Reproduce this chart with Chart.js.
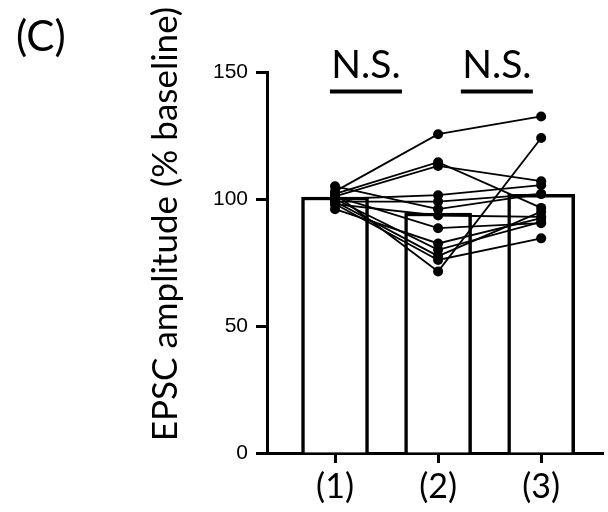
<!DOCTYPE html>
<html>
<head>
<meta charset="utf-8">
<script src="https://cdn.jsdelivr.net/npm/chart.js@4/dist/chart.umd.min.js"></script>
<style>
  body { margin: 0; background: #fff; }
</style>
</head>
<body>
<canvas id="grafico" width="608" height="512"></canvas>
<script>
// session positions and labels on the x axis
const sessions = [1, 2, 3];
const tickLabels = ['(1)', '(2)', '(3)'];
const yTicks = [0, 50, 100, 150];

// mean of each session (bar height, % baseline)
const barMeans = [100.8, 94.5, 101.8];

// one value per cell, same order in each session
const session1 = [103, 102, 101, 100, 99, 105, 98, 101, 96, 100, 99, 102, 98];
const session2 = [125.5, 114.5, 113, 101.5, 99, 96, 93.5, 88.5, 82.5, 80, 77.5, 71.5, 76];
const session3 = [132.5, 96.5, 107, 105.5, 102, 102, 93, 90.5, 92.5, 91, 95, 124, 84.5];

const sigLabels = ['N.S.', 'N.S.'];
const sigPos = [1.3, 2.57];

const fuente = 'Lato, "Open Sans", sans-serif';

// one line per cell, joining its three sessions
const lineas = session1.map((v, i) => ({
    type: 'line',
    data: [
        {x: sessions[0], y: session1[i]},
        {x: sessions[1], y: session2[i]},
        {x: sessions[2], y: session3[i]}
    ],
    borderColor: '#000',
    borderWidth: 1.8,
    pointRadius: 5,
    pointBackgroundColor: '#000',
    pointBorderWidth: 0,
    order: 0
}));

const barras = {
    type: 'bar',
    data: sessions.map((s, i) => ({x: s, y: barMeans[i]})),
    backgroundColor: '#fff',
    borderColor: '#000',
    borderWidth: 3.5,
    barThickness: 67,
    order: 1
};

// texts outside the axes: panel letter, y title, N.S. marks
const textos = {
    id: 'textos',
    afterDraw(chart) {
        const ctx = chart.ctx;
        const x = chart.scales.x;
        ctx.save();
        ctx.fillStyle = '#000';
        ctx.strokeStyle = '#000';

        ctx.font = '42px ' + fuente;
        ctx.textAlign = 'left';
        ctx.textBaseline = 'alphabetic';
        ctx.fillText('(C)', 16, 51);

        ctx.save();
        ctx.translate(166, 224);
        ctx.rotate(-Math.PI / 2);
        ctx.font = '35px ' + fuente;
        ctx.textAlign = 'center';
        ctx.textBaseline = 'middle';
        ctx.fillText('EPSC amplitude (% baseline)', 0, 0);
        ctx.restore();

        ctx.font = '39px ' + fuente;
        ctx.textAlign = 'center';
        ctx.lineWidth = 4;
        sigPos.forEach((p, i) => {
            const cx = x.getPixelForValue(p);
            ctx.fillText(sigLabels[i], cx, 78);
            ctx.beginPath();
            ctx.moveTo(cx - 36, 91.5);
            ctx.lineTo(cx + 36, 91.5);
            ctx.stroke();
        });
        ctx.restore();
    }
};

const config = {
    type: 'bar',
    data: {
        datasets: [...lineas, barras]
    },
    options: {
        responsive: false,
        animation: false,
        layout: {padding: {top: 72, right: 0, left: 0, bottom: 0}},
        plugins: {legend: {display: false}, tooltip: {enabled: false}},
        scales: {
            x: {
                type: 'linear',
                offset: false,
                min: 0.34,
                max: 3.6,
                afterBuildTicks: (s) => { s.ticks = sessions.map(v => ({value: v})); },
                afterFit: (s) => { s.height = 59; },
                ticks: {
                    callback: (v) => tickLabels[sessions.indexOf(v)],
                    color: '#000',
                    font: {family: fuente, size: 34},
                    padding: 4,
                    maxRotation: 0
                },
                grid: {offset: false, drawOnChartArea: false, tickLength: 10, tickWidth: 3, tickColor: '#000'},
                border: {display: true, color: '#000', width: 3}
            },
            y: {
                min: 0,
                max: 150,
                afterBuildTicks: (s) => { s.ticks = yTicks.map(v => ({value: v})); },
                afterFit: (s) => { s.width = 267; },
                ticks: {
                    color: '#000',
                    font: {family: '"Liberation Sans", Arial, sans-serif', size: 21},
                    padding: 8
                },
                grid: {drawOnChartArea: false, tickLength: 11, tickWidth: 3, tickColor: '#000'},
                border: {display: true, color: '#000', width: 3}
            }
        }
    },
    plugins: [textos]
};

let miGrafico = new Chart(document.getElementById('grafico'), config);
</script>
</body>
</html>
